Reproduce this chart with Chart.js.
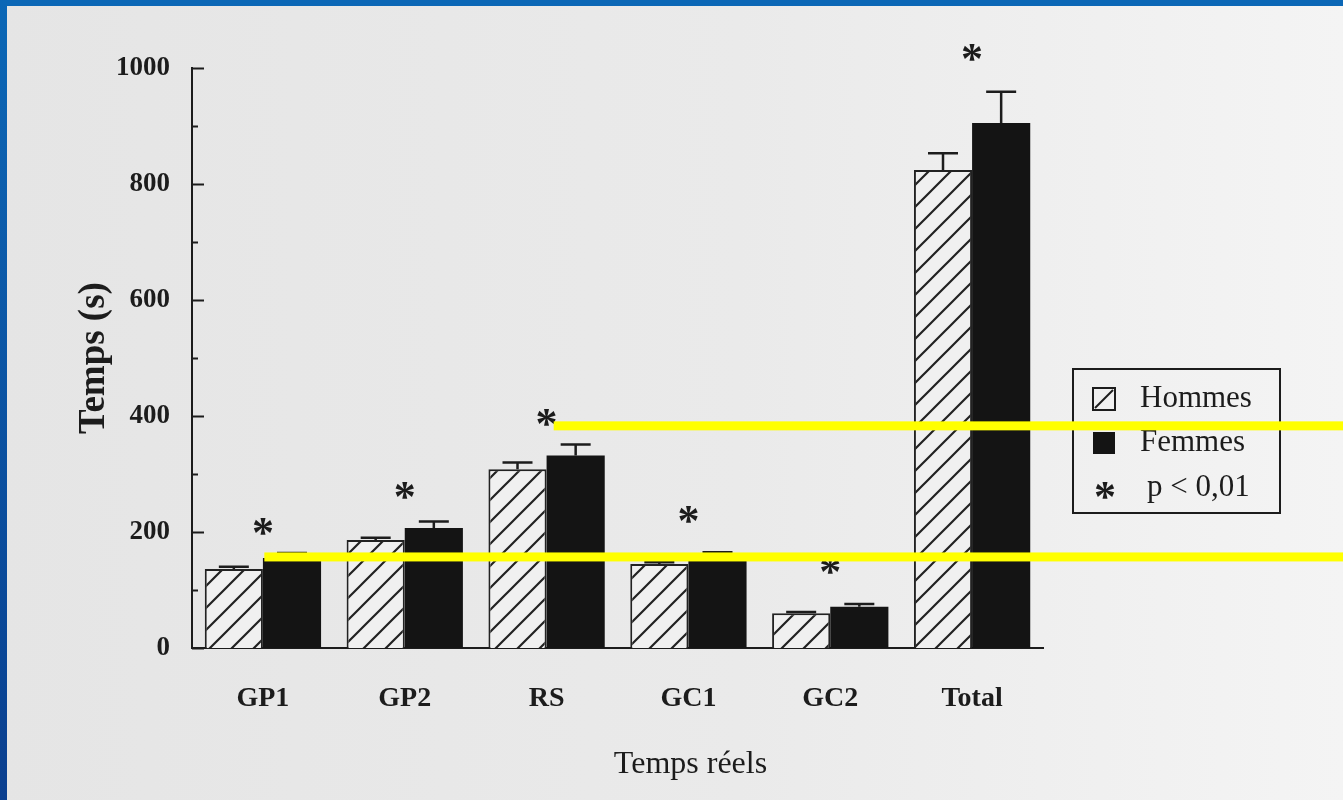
<!DOCTYPE html>
<html lang="fr">
<head>
<meta charset="utf-8">
<title>Temps réels</title>
<script src="https://cdn.jsdelivr.net/npm/chart.js@4.4.1/dist/chart.umd.min.js"></script>
<style>
  html, body { margin: 0; padding: 0; }
  body {
    width: 1343px; height: 800px; overflow: hidden; position: relative;
    background: linear-gradient(90deg, #e5e5e5 0%, #eaeaea 55%, #f4f4f4 100%);
  }
  #frameTop { position: absolute; left: 0; top: 0; width: 1343px; height: 6px; background: #0b67b6; z-index: 2; }
  #frameLeft { position: absolute; left: 0; top: 0; width: 7px; height: 800px; background: linear-gradient(180deg, #0b67b6, #0a3f8f); z-index: 2; }
  #wrap { position: absolute; left: 0; top: 0; width: 1343px; height: 800px; }
  canvas { position: absolute; left: 0; top: 0; }
</style>
</head>
<body>
<div id="frameTop"></div>
<div id="frameLeft"></div>
<div id="wrap"><canvas id="chart" width="1343" height="800"></canvas></div>
<script>
// Mean durations (s) per phase, with upper error bars
const categories = ['GP1', 'GP2', 'RS', 'GC1', 'GC2', 'Total'];
const hommes     = [136, 186, 308, 145, 60, 824];
const hommesErr  = [4, 4, 12, 3, 2, 29];
const femmes     = [155, 207, 332, 162, 71, 905];
const femmesErr  = [9, 11, 19, 3, 5, 54];
// Level of each significance asterisk (p < 0,01)
const starLevels = [209, 272, 397, 231, 143, 1026];
// Labelled y ticks
const yTickLabels = [0, 200, 400, 600, 800, 1000];
// Highlight lines (value level, starting category position)
const guideLevels = [383, 157];
const guideStarts = [2.05, 0.01];

const ink = '#1c1c1c';
const serif = '"Liberation Serif", "Times New Roman", serif';

function hatchPattern() {
  const s = 22;
  const c = document.createElement('canvas');
  c.width = s; c.height = s;
  const g = c.getContext('2d');
  g.fillStyle = '#f0f0f0';
  g.fillRect(0, 0, s, s);
  g.strokeStyle = '#222';
  g.lineWidth = 2.2;
  g.beginPath();
  g.moveTo(-2, s + 2); g.lineTo(s + 2, -2);
  g.moveTo(-2, 2); g.lineTo(2, -2);
  g.moveTo(s - 2, s + 2); g.lineTo(s + 2, s - 2);
  g.stroke();
  return g.createPattern(c, 'repeat');
}

function drawStar(ctx, x, y) {
  ctx.save();
  ctx.font = 'bold 44px ' + serif;
  ctx.fillStyle = ink;
  ctx.textAlign = 'center';
  ctx.textBaseline = 'alphabetic';
  const m = ctx.measureText('*');
  const base = y + (m.actualBoundingBoxAscent - m.actualBoundingBoxDescent) / 2;
  ctx.fillText('*', x, base);
  ctx.restore();
}

const decorations = {
  id: 'decorations',
  afterDatasetsDraw(chart) {
    const { ctx, scales: { x, y } } = chart;
    ctx.save();
    ctx.strokeStyle = ink;
    // inward tick marks on the value axis
    ctx.lineWidth = 2;
    const left = chart.chartArea.left;
    for (let v = 0; v <= 1000; v += 100) {
      const py = Math.round(y.getPixelForValue(v)) + 0.5;
      const len = v % 200 === 0 ? 12 : 6;
      ctx.beginPath();
      ctx.moveTo(left, py);
      ctx.lineTo(left + len, py);
      ctx.stroke();
    }
    // error bars
    ctx.lineWidth = 2.5;
    [[0, hommes, hommesErr], [1, femmes, femmesErr]].forEach(([di, vals, errs]) => {
      chart.getDatasetMeta(di).data.forEach((bar, i) => {
        const top = y.getPixelForValue(vals[i]);
        const tip = y.getPixelForValue(vals[i] + errs[i]);
        ctx.beginPath();
        ctx.moveTo(bar.x, top);
        ctx.lineTo(bar.x, tip);
        ctx.moveTo(bar.x - 15, tip);
        ctx.lineTo(bar.x + 15, tip);
        ctx.stroke();
      });
    });
    ctx.restore();
    // significance asterisks
    starLevels.forEach((lvl, i) => drawStar(ctx, x.getPixelForValue(i), y.getPixelForValue(lvl)));
  },
  afterDraw(chart) {
    const { ctx, chartArea, scales: { x, y } } = chart;
    const ds = chart.data.datasets;
    ctx.save();
    // x axis title
    ctx.fillStyle = ink;
    ctx.font = '32px ' + serif;
    ctx.textAlign = 'center';
    ctx.textBaseline = 'middle';
    ctx.fillText('Temps réels', (chartArea.left + chartArea.right) / 2 + 73, 765);

    // legend box
    const bx = chartArea.right + 30, by = 369, bw = 207, bh = 144;
    ctx.strokeStyle = ink;
    ctx.lineWidth = 2;
    ctx.strokeRect(bx, by, bw, bh);
    // hatched swatch
    ctx.fillStyle = '#f0f0f0';
    ctx.fillRect(bx + 20, by + 19, 22, 22);
    ctx.strokeRect(bx + 20, by + 19, 22, 22);
    ctx.beginPath();
    ctx.moveTo(bx + 22, by + 39);
    ctx.lineTo(bx + 40, by + 21);
    ctx.stroke();
    // solid swatch
    ctx.fillStyle = '#141414';
    ctx.fillRect(bx + 20, by + 63, 22, 22);
    ctx.fillStyle = ink;
    ctx.font = '31px ' + serif;
    ctx.textAlign = 'left';
    ctx.textBaseline = 'middle';
    ctx.fillText(ds[0].label, bx + 67, by + 30);
    ctx.fillText(ds[1].label, bx + 67, by + 74);
    drawStar(ctx, bx + 32, by + 121);
    ctx.fillStyle = ink;
    ctx.font = '31px ' + serif;
    ctx.textAlign = 'left';
    ctx.textBaseline = 'middle';
    ctx.fillText('p < 0,01', bx + 74, by + 119);

    // yellow highlight lines
    ctx.fillStyle = '#ffff00';
    guideLevels.forEach((lvl, i) => {
      const py = y.getPixelForValue(lvl);
      const px = x.getPixelForValue(guideStarts[i]);
      ctx.fillRect(px, py - 4.5, chart.width - px, 9);
    });
    ctx.restore();
  }
};

new Chart(document.getElementById('chart'), {
  type: 'bar',
  data: {
    labels: categories,
    datasets: [
      {
        label: 'Hommes',
        data: hommes,
        backgroundColor: hatchPattern(),
        borderColor: '#222',
        borderWidth: 2,
        categoryPercentage: 0.82,
        barPercentage: 1.0
      },
      {
        label: 'Femmes',
        data: femmes,
        backgroundColor: '#141414',
        borderWidth: 0,
        categoryPercentage: 0.82,
        barPercentage: 1.0
      }
    ]
  },
  options: {
    responsive: false,
    animation: false,
    devicePixelRatio: 1,
    layout: { padding: { top: 68, right: 300, bottom: 0, left: 0 } },
    plugins: {
      legend: { display: false },
      tooltip: { enabled: false }
    },
    scales: {
      x: {
        afterFit(s) { s.height = 152; },
        grid: { display: false, drawTicks: false },
        border: { display: true, color: ink, width: 2 },
        ticks: { padding: 34, color: ink, font: { family: serif, size: 28, weight: 'bold' } }
      },
      y: {
        min: 0,
        max: 1000,
        afterFit(s) { s.width = 192; },
        grid: { display: false, drawTicks: false },
        border: { display: true, color: ink, width: 2 },
        ticks: {
          stepSize: 100,
          autoSkip: false,
          padding: 22,
          color: ink,
          font: { family: serif, size: 27, weight: 'bold' },
          callback: v => (yTickLabels.includes(v) ? v : '')
        },
        title: {
          display: true,
          text: 'Temps (s)',
          color: ink,
          font: { family: serif, size: 37, weight: 'bold' },
          padding: { top: 72, bottom: 0 }
        }
      }
    }
  },
  plugins: [decorations]
});
</script>
</body>
</html>
